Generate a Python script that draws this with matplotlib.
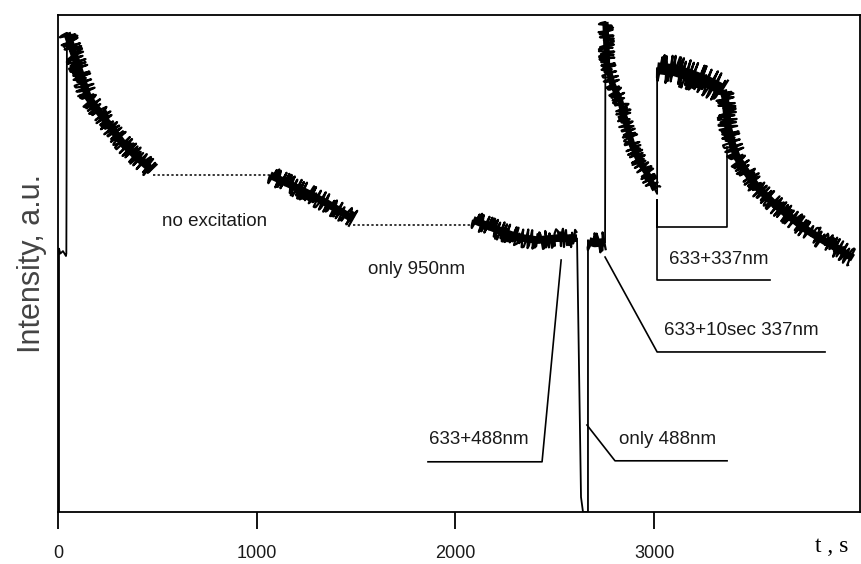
import matplotlib.pyplot as plt

plt.rcParams['font.family'] = ['Liberation Sans', 'DejaVu Sans']

# time (s) and intensity (a.u., 0..100)
start_t = [5, 5, 12, 25, 40, 42, 45]
start_y = [0, 53.0, 52.0, 52.5, 51.5, 52.0, 96.4]

seg1_t = [45, 86, 151, 237, 322, 403, 473]
seg1_y = [96.4, 91.5, 83.5, 78.9, 74.4, 71.2, 68.8]

gap1_t = [478, 1067]
gap1_y = [67.8, 67.8]

seg2_t = [1067, 1183, 1268, 1354, 1434, 1485]
seg2_y = [67.8, 65.6, 63.9, 62.1, 60.2, 58.9]

gap2_t = [1485, 2089]
gap2_y = [57.7, 57.7]

seg3_t = [2089, 2160, 2310, 2411, 2511, 2577, 2612]
seg3_y = [58.8, 57.6, 55.3, 54.7, 55.1, 55.1, 55.1]

drop_t = [2612, 2632, 2642, 2667, 2667, 2672]
drop_y = [55.0, 3.0, 0.0, 0.0, 54.7, 54.5]

seg4_t = [2672, 2700, 2753]
seg4_y = [54.5, 54.1, 54.3]

jump_t = [2753, 2755]
jump_y = [54.3, 98.6]

seg5_t = [2755, 2763, 2788, 2828, 2864, 2894, 2929, 2964, 3005]
seg5_y = [98.6, 90.3, 86.3, 82.9, 77.5, 73.4, 70.2, 68.2, 64.8]

jump2_t = [3005, 3015, 3015]
jump2_y = [64.8, 64.0, 89.3]

plat_t = [3015, 3100, 3181, 3270, 3347]
plat_y = [89.3, 88.9, 87.9, 86.5, 84.9]

seg6_t = [3347, 3357, 3372, 3392, 3417, 3468, 3518, 3598, 3684, 3770, 3850, 3936, 4001]
seg6_y = [84.9, 83.5, 77.5, 74.2, 71.4, 68.2, 65.4, 62.2, 59.4, 56.7, 54.7, 52.7, 51.1]

# annotation leader lines
lead_488_t = [1862, 2436, 2532]
lead_488_y = [10.1, 10.1, 50.7]
lead_only488_t = [2662, 2803, 3367]
lead_only488_y = [17.5, 10.3, 10.3]
lead_10s_t = [2753, 3015, 3860]
lead_10s_y = [51.3, 32.2, 32.2]
brk_337_t = [3583, 3015, 3015, 3015, 3367, 3367]
brk_337_y = [46.7, 46.7, 62.8, 57.3, 57.3, 73.4]

labels = ['no excitation', 'only 950nm', '633+488nm', 'only 488nm',
          '633+10sec 337nm', '633+337nm']
label_t = [790, 1802, 2119, 3070, 3437, 3327]
label_y = [58.5, 48.7, 14.5, 14.5, 36.6, 50.9]

xticks = [0, 1000, 2000, 3000]

fig = plt.figure(figsize=(8.62, 5.64), dpi=100)
ax = fig.add_axes([58 / 862, 52 / 564, 802 / 862, 497 / 564])

thin = dict(color='black', lw=1.3)

ax.plot(start_t, start_y, **thin)
ax.plot(drop_t, drop_y, **thin)
ax.plot(jump_t, jump_y, **thin)
ax.plot(jump2_t, jump2_y, **thin)

# noisy recorded parts: a thick core plus a jagged stroke on top
for tt, yy, w in [(seg1_t, seg1_y, 5.5), (seg2_t, seg2_y, 5.5), (seg3_t, seg3_y, 5.5),
                  (seg4_t, seg4_y, 6), (seg5_t, seg5_y, 4.5), (plat_t, plat_y, 8.5),
                  (seg6_t, seg6_y, 5.5)]:
    ax.plot(tt, yy, lw=w, color='black', solid_capstyle='butt')
    line, = ax.plot(tt, yy, lw=1.6, color='black', solid_capstyle='butt')
    line.set_sketch_params(scale=w * 1.7, length=0.6, randomness=1.5)

ax.plot(gap1_t, gap1_y, color='black', lw=1.1, ls=(0, (1.5, 1.5)))
ax.plot(gap2_t, gap2_y, color='black', lw=1.1, ls=(0, (1.5, 1.5)))

for tt, yy in [(lead_488_t, lead_488_y), (lead_only488_t, lead_only488_y),
               (lead_10s_t, lead_10s_y), (brk_337_t, brk_337_y)]:
    ax.plot(tt, yy, color='black', lw=1.2)

for txt, tx, ty in zip(labels, label_t, label_y):
    ax.text(tx, ty, txt, fontsize=13.5, ha='center', va='center', color='#1a1a1a')

ax.set_xlim(0, 4036)
ax.set_ylim(0, 100)
ax.set_xticks(xticks)
ax.set_xticklabels([str(v) for v in xticks], fontsize=13, color='#1a1a1a')
ax.set_yticks([])
ax.tick_params(axis='x', direction='out', length=12, width=1.3, pad=12)
for sp in ax.spines.values():
    sp.set_linewidth(1.3)

ax.set_ylabel('Intensity, a.u.', fontsize=22, color='#444444', labelpad=8)
ax.text(3895, -7, 't , s', fontsize=17, family=['Liberation Serif', 'DejaVu Serif'],
        ha='center', va='center', clip_on=False)

fig.savefig('out.png', dpi=100)
